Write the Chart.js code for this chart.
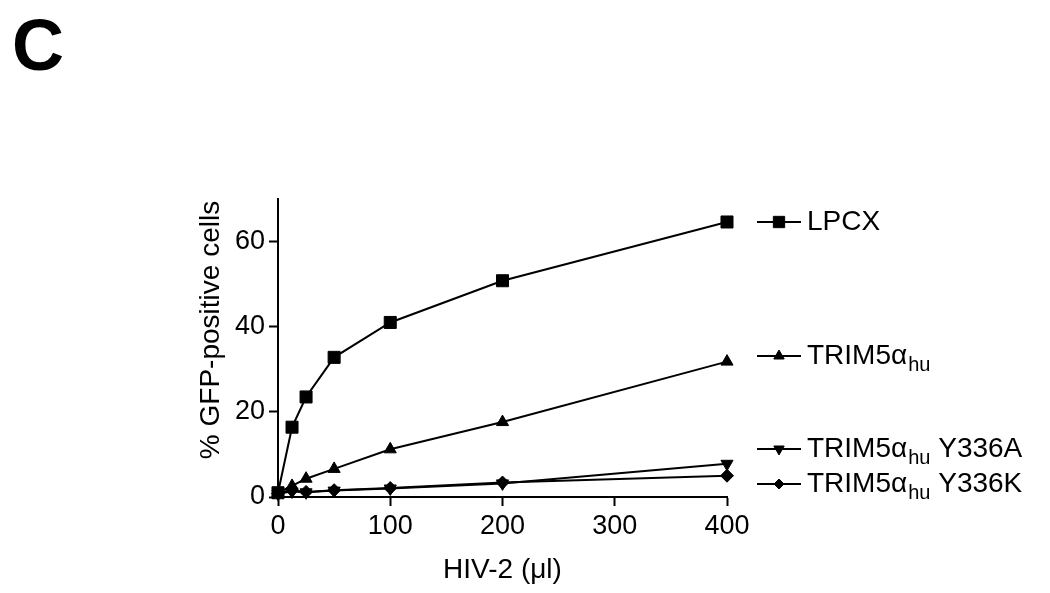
<!DOCTYPE html>
<html>
<head>
<meta charset="utf-8">
<script src="https://cdn.jsdelivr.net/npm/chart.js@4"></script>
<style>
  html, body { margin: 0; padding: 0; background: #fff; }
  canvas { display: block; }
</style>
</head>
<body>
<canvas id="chart" width="1050" height="593"></canvas>
<script>
// HIV-2 dose (ul) on x, % GFP-positive cells on y
const doses = [0, 12.5, 25, 50, 100, 200, 400];
const lpcx = [1, 16.4, 23.5, 32.8, 41, 50.8, 64.6];
const trimHu = [1, 2.6, 4.3, 6.6, 11.2, 17.6, 31.8];
const trimY336A = [0.8, 1.3, 1.1, 1.5, 2, 3.2, 7.8];
const trimY336K = [0.8, 1.6, 1.2, 1.6, 2.1, 3.4, 5];

const xTicks = [0, 100, 200, 300, 400];
const yTicks = [0, 20, 40, 60];

// legend names split so the "hu" can be drawn as a subscript
const seriesNames = ["LPCX", "TRIM5αhu", "TRIM5αhu Y336A", "TRIM5αhu Y336K"];
const legendParts = [
  ["LPCX", "", ""],
  ["TRIM5α", "hu", ""],
  ["TRIM5α", "hu", " Y336A"],
  ["TRIM5α", "hu", " Y336K"],
];
const yTitle = "% GFP-positive cells";

const FONT = "'Liberation Sans', Arial, sans-serif";

const markers = [
  { pointStyle: "rect", radius: 8.5, rotation: 0, legendRadius: 8 },
  { pointStyle: "triangle", radius: 7, rotation: 0, legendRadius: 6 },
  { pointStyle: "triangle", radius: 7, rotation: 180, legendRadius: 6 },
  { pointStyle: "rectRot", radius: 6.5, rotation: 0, legendRadius: 5 },
];

function makeSet(i, values) {
  return {
    label: seriesNames[i],
    data: doses.map((d, k) => ({ x: d, y: values[k] })),
    borderColor: "#000",
    backgroundColor: "#000",
    borderWidth: 2,
    tension: 0,
    pointStyle: markers[i].pointStyle,
    pointRadius: markers[i].radius,
    pointRotation: markers[i].rotation,
    pointBackgroundColor: "#000",
    pointBorderColor: "#000",
    pointBorderWidth: 1,
    clip: false,
  };
}

// hand-drawn legend to the right, y title and the panel letter
const sideLegend = {
  id: "sideLegend",
  afterDraw(chart) {
    const ctx = chart.ctx;
    const rowsY = [222, 356, 449, 484];
    ctx.save();
    ctx.fillStyle = "#000";
    ctx.strokeStyle = "#000";
    ctx.textBaseline = "middle";
    legendParts.forEach((p, i) => {
      const y = rowsY[i];
      ctx.lineWidth = 2;
      ctx.beginPath();
      ctx.moveTo(757, y);
      ctx.lineTo(801, y);
      ctx.stroke();
      ctx.lineWidth = 1;
      Chart.helpers.drawPoint(ctx, {
        pointStyle: markers[i].pointStyle,
        radius: markers[i].legendRadius,
        rotation: markers[i].rotation,
        borderWidth: 1,
      }, 779, y);
      let x = 807;
      ctx.font = "28px " + FONT;
      ctx.fillText(p[0], x, y);
      x += ctx.measureText(p[0]).width + 1;
      if (p[1]) {
        ctx.font = "20px " + FONT;
        ctx.fillText(p[1], x, y + 9);
        x += ctx.measureText(p[1]).width;
      }
      if (p[2]) {
        ctx.font = "28px " + FONT;
        ctx.fillText(p[2], x, y);
      }
    });

    ctx.save();
    ctx.translate(211, 330);
    ctx.rotate(-Math.PI / 2);
    ctx.textAlign = "center";
    ctx.font = "28px " + FONT;
    ctx.fillText(yTitle, 0, 0);
    ctx.restore();

    ctx.font = "bold 72px " + FONT;
    ctx.textBaseline = "alphabetic";
    ctx.fillText("C", 12, 70);
    ctx.restore();
  },
};

const ctx = document.getElementById("chart").getContext("2d");
new Chart(ctx, {
  type: "line",
  data: {
    datasets: [
      makeSet(0, lpcx),
      makeSet(1, trimHu),
      makeSet(2, trimY336A),
      makeSet(3, trimY336K),
    ],
  },
  options: {
    responsive: false,
    animation: false,
    layout: { padding: { left: 193, top: 199, right: 323, bottom: 6 } },
    plugins: { legend: { display: false }, tooltip: { enabled: false } },
    scales: {
      x: {
        type: "linear",
        min: 0,
        max: 400,
        afterFit: (s) => { s.height = 90; },
        afterBuildTicks: (s) => { s.ticks = xTicks.map((v) => ({ value: v })); },
        grid: { drawOnChartArea: false, drawTicks: true, tickLength: 9, color: "#000", tickWidth: 2 },
        border: { color: "#000", width: 2 },
        ticks: { color: "#000", font: { family: FONT, size: 27 }, padding: 4, maxRotation: 0 },
        title: { display: true, text: "HIV-2 (μl)", color: "#000", font: { family: FONT, size: 28 }, padding: { top: 0, bottom: 0 } },
      },
      y: {
        min: 0,
        max: 70,
        afterFit: (s) => { s.width = 85; },
        afterBuildTicks: (s) => { s.ticks = yTicks.map((v) => ({ value: v })); },
        grid: { drawOnChartArea: false, drawTicks: true, tickLength: 9, color: "#000", tickWidth: 2 },
        border: { color: "#000", width: 2 },
        ticks: { color: "#000", font: { family: FONT, size: 27 }, padding: 4 },
        title: { display: false },
      },
    },
  },
  plugins: [sideLegend],
});
</script>
</body>
</html>
